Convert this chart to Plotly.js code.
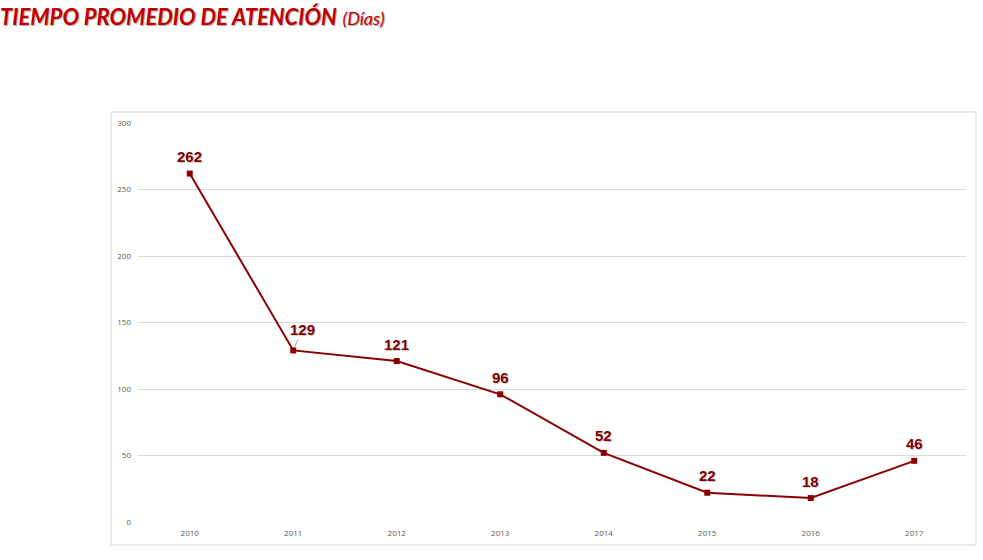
<!DOCTYPE html>
<html><head><meta charset="utf-8">
<script src="https://cdn.plot.ly/plotly-3.0.1.min.js"></script>
<style>html,body{margin:0;padding:0;background:#fff}#c{width:983px;height:560px}</style>
</head><body><div id="c"></div>
<script>
const years = ['2010','2011','2012','2013','2014','2015','2016','2017'];
const dias = [262, 129, 121, 96, 52, 22, 18, 46];
const yTicks = [0, 50, 100, 150, 200, 250, 300];
const leader = [false, true, false, false, false, false, false, false];

const lineColor = '#8B0000';
const labelFont = {family: 'Arial, Liberation Sans, sans-serif', size: 15, color: '#7F0000', shadow: '1px 1px 1px rgba(0,0,0,0.2)'};

const annotations = years.map((yr, i) => leader[i] ? {
  x: i, y: dias[i], xref: 'x', yref: 'y', text: '<b>' + dias[i] + '</b>',
  showarrow: true, arrowhead: 0, arrowwidth: 1, arrowcolor: '#A6A6A6',
  ax: 9, ay: -21, standoff: 4, font: labelFont
} : {
  x: i, y: dias[i], xref: 'x', yref: 'y', text: '<b>' + dias[i] + '</b>',
  showarrow: false, yshift: 17, yanchor: 'middle', font: labelFont
});

const trace = {
  x: years, y: dias, type: 'scatter', mode: 'lines+markers',
  line: {color: lineColor, width: 2},
  marker: {symbol: 'square', size: 6, color: lineColor},
  cliponaxis: false,
  hoverinfo: 'skip'
};

const layout = {
  width: 983, height: 560,
  margin: {l: 138, r: 17, t: 123, b: 38},
  paper_bgcolor: '#fff', plot_bgcolor: '#fff',
  showlegend: false,
  title: {
    text: '<b><i>TIEMPO PROMEDIO DE ATENCIÓN</i></b> <i><span style="font-size:18px">(Días)</span></i>',
    x: 0.0, xref: 'container', xanchor: 'left',
    y: 0.97, yref: 'container', yanchor: 'middle',
    font: {family: 'Lato, Open Sans, sans-serif', size: 22, color: '#C00000', shadow: '1px 1px 1px rgba(0,0,0,0.35)'}
  },
  xaxis: {
    type: 'category', range: [-0.5, 7.5], showgrid: false, zeroline: false,
    showline: false, ticks: '', tickfont: {family: 'Open Sans, sans-serif', size: 8, color: '#595959'},
    ticklabelstandoff: 5, fixedrange: true
  },
  yaxis: {
    range: [0, 300], tickvals: yTicks, showgrid: true, gridcolor: '#D9D9D9', gridwidth: 1,
    zeroline: false, showline: false, ticks: '',
    tickfont: {family: 'Open Sans, sans-serif', size: 8, color: '#595959'},
    ticklabelstandoff: 6, fixedrange: true
  },
  shapes: [{
    type: 'rect', xref: 'paper', yref: 'paper',
    x0: -27/828, x1: 1 + 10/828, y0: -23/399, y1: 1 + 11/399,
    line: {color: '#D9D9D9', width: 1}, fillcolor: 'rgba(0,0,0,0)', layer: 'below'
  }],
  annotations: annotations
};

Plotly.newPlot('c', [trace], layout, {displayModeBar: false, staticPlot: true});
</script>
</body></html>
